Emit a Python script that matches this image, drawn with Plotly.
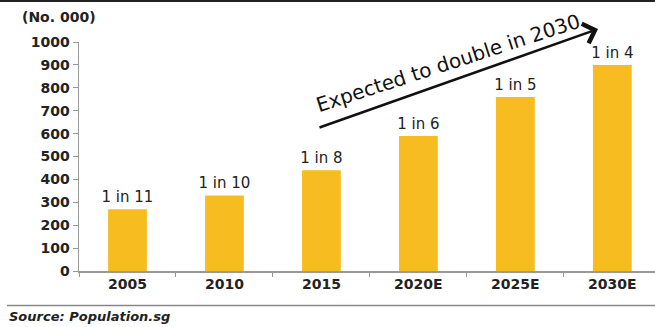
import plotly.graph_objects as go

categories = ["2005", "2010", "2015", "2020E", "2025E", "2030E"]
values = [270, 330, 440, 590, 760, 900]
ratio_labels = ["1 in 11", "1 in 10", "1 in 8", "1 in 6", "1 in 5", "1 in 4"]
y_ticks = [0, 100, 200, 300, 400, 500, 600, 700, 800, 900, 1000]

FONT = "DejaVu Sans"
TXT = "#222222"

fig = go.Figure()
fig.add_trace(go.Bar(
    x=categories, y=values, text=ratio_labels,
    textposition="outside", cliponaxis=False, constraintext="none",
    textfont=dict(family=FONT, size=15, color=TXT),
    marker=dict(color="#F7BD20", line=dict(width=0)),
    width=0.4, hoverinfo="skip",
))

fig.update_layout(
    width=655, height=327,
    margin=dict(l=79, r=0, t=42, b=56),
    paper_bgcolor="white", plot_bgcolor="white",
    showlegend=False,
    xaxis=dict(
        type="category", range=[-0.5, 5.44],
        showline=True, linecolor="#999999", linewidth=1.5,
        ticks="outside", tickson="boundaries", ticklen=4, tickcolor="#999999",
        tickfont=dict(family=FONT, size=14, color=TXT, weight="bold"),
        showgrid=False, zeroline=False, fixedrange=True,
    ),
    yaxis=dict(
        range=[0, 1000], tickvals=y_ticks,
        showline=True, linecolor="#999999", linewidth=1.5,
        ticks="outside", ticklen=5, tickcolor="#999999",
        tickfont=dict(family=FONT, size=14, color=TXT, weight="bold"),
        showgrid=False, zeroline=False, fixedrange=True,
    ),
)

# y-axis unit title
fig.add_annotation(xref="paper", yref="paper", x=(20 - 79) / 576, y=(271 - 17) / 229,
                   xanchor="left", yanchor="middle", showarrow=False,
                   text="(No. 000)", font=dict(family=FONT, size=14, color=TXT, weight="bold"))

# arrow
fig.add_annotation(xref="paper", yref="paper", x=(598 - 79) / 576, y=(271 - 29) / 229,
                   ax=-280, ay=99, text="", showarrow=True,
                   arrowhead=4, arrowsize=1.6, arrowwidth=2.5, arrowcolor="#111111")

# arrow text
fig.add_annotation(xref="paper", yref="paper", x=(448 - 79) / 576, y=(271 - 63) / 229,
                   xanchor="center", yanchor="middle", showarrow=False, textangle=-18,
                   text="Expected to double in 2030",
                   font=dict(family=FONT, size=20, color="#111111"))

# source
fig.add_annotation(xref="paper", yref="paper", x=(7 - 79) / 576, y=(271 - 316) / 229,
                   xanchor="left", yanchor="middle", showarrow=False,
                   text="<i>Source: Population.sg</i>",
                   font=dict(family=FONT, size=13, color=TXT, weight="bold"))

# top border line and bottom separator
fig.add_shape(type="line", xref="paper", yref="paper",
              x0=-79 / 576, x1=1, y0=(271 - 1) / 229, y1=(271 - 1) / 229,
              line=dict(color="#222222", width=2))
fig.add_shape(type="line", xref="paper", yref="paper",
              x0=(7 - 79) / 576, x1=1, y0=(271 - 305.5) / 229, y1=(271 - 305.5) / 229,
              line=dict(color="#888888", width=1.5))

fig.write_html("out.html", config={"displayModeBar": False, "staticPlot": True},
               post_script="document.body.style.margin='0';document.body.style.overflow='hidden';")
